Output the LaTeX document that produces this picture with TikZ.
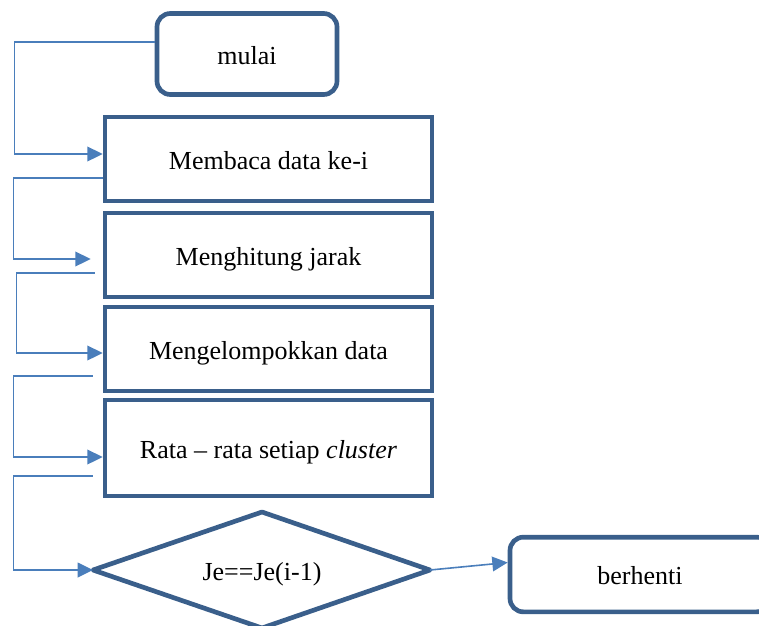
\documentclass[tikz,border=0pt]{standalone}
\usepackage{fontspec}
\setmainfont{Liberation Serif}
\usetikzlibrary{calc,arrows.meta}
\definecolor{boxc}{HTML}{3A5F8B}
\definecolor{linec}{HTML}{4A7EBB}
\begin{document}
\begin{tikzpicture}[x=0.75pt,y=-0.75pt,
  txt/.style={font=\fontsize{19.5}{23}\selectfont,text=black,text height=20pt,text depth=5pt},
  box/.style={txt,draw=boxc,line width=3.5pt,inner sep=0pt,minimum width=245.25pt,minimum height=63pt},
  rbox/.style={box,rounded corners=10pt},
  conn/.style={draw=linec,line width=1.2pt,-{Triangle[length=11.5pt,width=11pt]}}]
\path[use as bounding box] (0,0) rectangle (759,625);
\clip (0,0) rectangle (759,625);
% nodes
\node[rbox,minimum width=135pt,minimum height=60.75pt] (mulai) at (247,54) {mulai};
\node[box] (baca) at (268.5,159) {Membaca data ke-i};
\node[box] (hitung) at (268.5,255) {Menghitung jarak};
\node[box] (kelompok) at (268.5,349) {Mengelompokkan data};
\node[box,minimum height=72pt] (rata) at (268.5,448) {Rata -- rata setiap \textit{cluster}};
\coordinate (dl) at (93,570);
\coordinate (dt) at (262,512);
\coordinate (dr) at (430,570);
\coordinate (db) at (262,628);
\draw[boxc,line width=3.5pt,line join=round] (dl) -- (dt) -- (dr) -- (db) -- cycle;
\node[txt,inner sep=0pt] (cek) at (262,570) {Je==Je(i-1)};
\node[rbox,minimum width=195pt,minimum height=56pt] (henti) at (640,574.5) {berhenti};
% connectors
\draw[conn] ($(mulai.west)+(0,-12)$) -- ++(-140,0) |- ($(baca.west)+(0,-5)$);
\draw[conn] ($(baca.west)+(0,19)$) -- ++(-89,0) |- ($(hitung.west)+(-12,4)$);
\draw[conn] ($(hitung.west)+(-8,18)$) coordinate (s3) -- ++(-78,0) |- ($(kelompok.west)+(0,4)$);
\draw[conn] ($(kelompok.west)+(-10,27)$) coordinate (s4) -- ++(-79,0) |- ($(rata.west)+(0,9)$);
\draw[conn] ($(rata.west)+(-10,28)$) coordinate (s5) -- ++(-79,0) |- (dl);
\draw[conn] (dr) -- ($(henti.west)+(0,-12)$);
\end{tikzpicture}
\end{document}
